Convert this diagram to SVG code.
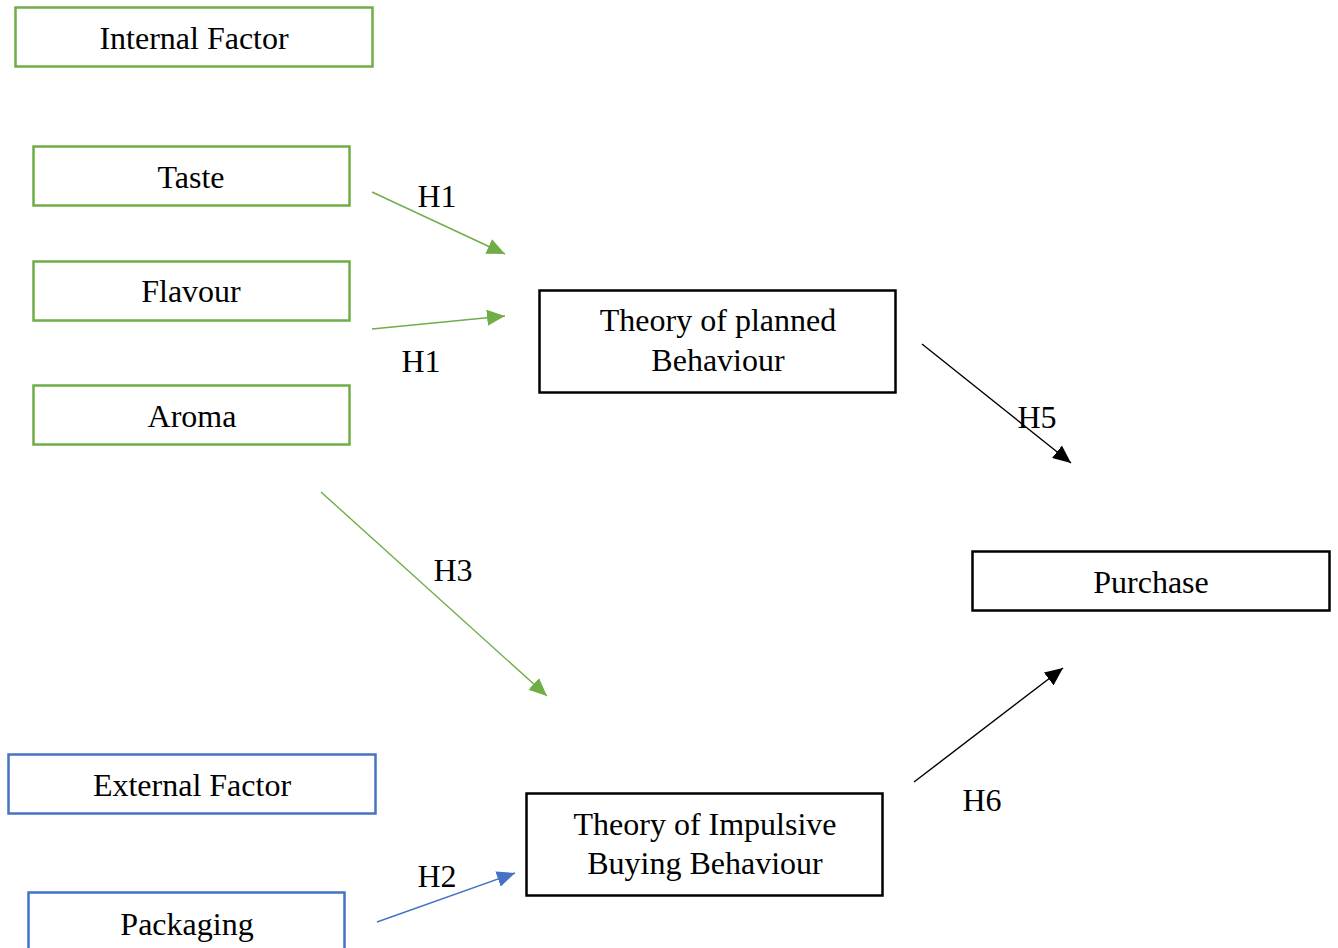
<svg xmlns="http://www.w3.org/2000/svg" width="1338" height="948" viewBox="0 0 1338 948">
<style>
text{font-family:"Liberation Serif","Times New Roman",serif;font-size:32px;fill:#000;text-anchor:middle}
.g{fill:#fff;stroke:#70AD47;stroke-width:2.5}
.b{fill:#fff;stroke:#4472C4;stroke-width:2.5}
.k{fill:#fff;stroke:#000;stroke-width:2.5}
.lg{stroke:#70AD47;stroke-width:1.4;fill:none}
.lb{stroke:#4472C4;stroke-width:1.4;fill:none}
.lk{stroke:#000;stroke-width:1.4;fill:none}
</style>
<defs>
<marker id="ag" markerUnits="userSpaceOnUse" markerWidth="20" markerHeight="16" refX="18" refY="8" orient="auto"><path d="M0,0 L18,8 L0,16 z" fill="#70AD47"/></marker>
<marker id="ab" markerUnits="userSpaceOnUse" markerWidth="20" markerHeight="16" refX="18" refY="8" orient="auto"><path d="M0,0 L18,8 L0,16 z" fill="#4472C4"/></marker>
<marker id="ak" markerUnits="userSpaceOnUse" markerWidth="20" markerHeight="16" refX="18" refY="8" orient="auto"><path d="M0,0 L18,8 L0,16 z" fill="#000"/></marker>
</defs>
<rect width="1338" height="948" fill="#fff"/>
<g id="internal"><rect class="g" x="15.5" y="7.5" width="357" height="59"/><text x="194" y="49">Internal Factor</text></g>
<g id="taste"><rect class="g" x="33.5" y="146.5" width="316" height="59"/><text x="191" y="188">Taste</text></g>
<g id="flavour"><rect class="g" x="33.5" y="261.5" width="316" height="59"/><text x="191" y="302">Flavour</text></g>
<g id="aroma"><rect class="g" x="33.5" y="385.5" width="316" height="59"/><text x="192" y="427">Aroma</text></g>
<g id="tpb"><rect class="k" x="539.5" y="290.5" width="356" height="102"/><text x="718" y="331">Theory of planned</text><text x="718" y="371">Behaviour</text></g>
<g id="purchase"><rect class="k" x="972.5" y="551.5" width="357" height="59"/><text x="1151" y="593">Purchase</text></g>
<g id="external"><rect class="b" x="8.5" y="754.5" width="367" height="59"/><text x="192" y="796">External Factor</text></g>
<g id="tibb"><rect class="k" x="526.5" y="793.5" width="356" height="102"/><text x="705" y="835">Theory of Impulsive</text><text x="705" y="874">Buying Behaviour</text></g>
<g id="packaging"><rect class="b" x="28.5" y="892.5" width="316" height="70"/><text x="187" y="935">Packaging</text></g>
<g id="connectors">
<line class="lg" x1="372" y1="192" x2="505" y2="254" marker-end="url(#ag)"/>
<line class="lg" x1="372" y1="329" x2="505" y2="316" marker-end="url(#ag)"/>
<line class="lg" x1="321" y1="492" x2="547" y2="696" marker-end="url(#ag)"/>
<line class="lb" x1="377" y1="922" x2="515" y2="873" marker-end="url(#ab)"/>
<line class="lk" x1="922" y1="344" x2="1071" y2="463" marker-end="url(#ak)"/>
<line class="lk" x1="914" y1="782" x2="1063" y2="668" marker-end="url(#ak)"/>
<text x="437" y="207">H1</text>
<text x="421" y="372">H1</text>
<text x="453" y="581">H3</text>
<text x="1037" y="428">H5</text>
<text x="982" y="811">H6</text>
<text x="437" y="887">H2</text>
</g>
</svg>
